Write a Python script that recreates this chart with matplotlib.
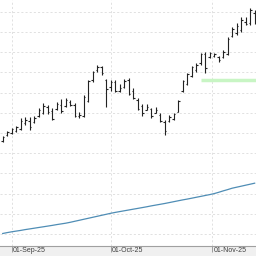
import matplotlib
matplotlib.use("Agg")
import matplotlib.pyplot as plt
import matplotlib.transforms as mtransforms

# daily bars, 28-Aug-25 .. 17-Nov-25 (trading days)
opens = [146, 149, 150, 151, 152, 155, 156, 155.5, 158.5, 160,
         163, 161, 162, 164, 163.5, 165.5, 164, 158.5, 158.5, 166,
         176, 181, 182.5, 176, 173, 175, 171, 173, 176, 171,
         166.5, 163.5, 161.5, 162, 160, 159, 155.5, 156, 157, 160.5,
         171, 174.5, 178, 181, 184.5, 189, 187.5, 188, 187.5, 187.5,
         189, 198, 199.5, 201, 205, 204.5, 209.5]
highs = [148.5, 151.0, 152.5, 153.5, 157.4, 157.9, 157.9, 158.4, 162.4, 164.9,
         163.9, 162.4, 165.3, 166.8, 167.3, 166.3, 164.9, 160.4, 168.8, 176.2,
         180.7, 183.7, 183.2, 176.7, 176.2, 176.2, 174.3, 176.7, 177.2, 172.3,
         167.3, 164.4, 164.4, 162.4, 162.9, 159.9, 156.4, 158.9, 159.9, 166.3,
         176.2, 179.7, 183.2, 184.7, 189.6, 190.1, 190.1, 189.6, 188.1, 191.1,
         197.5, 202.5, 204.5, 207.4, 207.4, 211.9, 210.9]
lows = [145.5, 148.5, 149.5, 150.5, 151.5, 154.0, 151.5, 154.9, 157.9, 159.4,
        159.4, 156.4, 161.4, 159.9, 162.9, 163.4, 157.9, 157.4, 157.9, 165.3,
        175.2, 180.2, 178.7, 162.9, 170.8, 170.3, 170.3, 172.3, 168.8, 166.8,
        161.4, 158.4, 161.4, 157.4, 159.9, 155.4, 149.0, 155.4, 156.4, 160.4,
        170.3, 173.8, 177.7, 180.2, 183.7, 179.7, 187.1, 187.6, 185.1, 187.1,
        188.6, 197.5, 198.5, 200.0, 203.5, 203.5, 204.0]
closes = [148, 150.5, 152, 153, 156, 156.5, 153, 157.5, 161.5, 163.5,
          160.5, 157, 164.5, 161, 166.5, 164, 158.5, 159, 168, 175.5,
          180, 182.5, 179.5, 172, 175, 171, 172.5, 175.5, 169.5, 167.5,
          162, 160, 163, 158.5, 161.5, 156, 151, 158, 159.5, 166,
          175.5, 179, 182.5, 183.5, 189, 182, 189.5, 189, 186, 190,
          196.5, 201.5, 203, 206, 204, 211, 205]

# slow moving average (blue)
ma = [100.25, 100.69, 101.09, 101.44, 101.78, 102.18, 102.52, 102.87, 103.22, 103.56,
      103.91, 104.26, 104.65, 105.00, 105.35, 105.79, 106.29, 106.78, 107.28, 107.77,
      108.27, 108.76, 109.26, 109.75, 110.25, 110.69, 111.09, 111.49, 111.88, 112.28,
      112.67, 113.07, 113.47, 113.91, 114.31, 114.70, 115.10, 115.54, 115.99, 116.44,
      116.88, 117.28, 117.72, 118.17, 118.61, 119.06, 119.50, 120.00, 120.64, 121.34,
      121.98, 122.67, 123.17, 123.66, 124.16, 124.65, 125.15]

# support level (green)
level_price = 176.2
level_start = 44.1

month_pos = [2, 24, 46.6]
month_labels = ["01-Sep-25", "01-Oct-25", "01-Nov-25"]

fig = plt.figure(figsize=(2.56, 2.56), dpi=100)
fig.patch.set_facecolor('#f0f0f0')
ax = fig.add_axes([0, 10 / 256, 1, 246 / 256])
ax.set_facecolor('white')

idx = list(range(len(opens)))
tw = 0.35

ax.plot(idx, ma, color='#4f8db5', lw=0.9, zorder=3)
ax.hlines(level_price, level_start, 57, color='#c8f5c4', lw=2.5, zorder=2)

ax.vlines(idx, lows, highs, color='#222222', lw=0.8, zorder=4)
ax.hlines(opens, [i - tw for i in idx], idx, color='#222222', lw=0.8, zorder=4)
ax.hlines(closes, idx, [i + tw for i in idx], color='#222222', lw=0.8, zorder=4)

ax.set_xlim(-0.6, 56.3)
ax.set_ylim(94.06, 215.84)
ax.set_yticks(range(100, 220, 10))
ax.set_xticks(month_pos)
ax.set_xticklabels([])
ax.tick_params(axis='y', left=False, labelleft=False)
ax.tick_params(axis='x', length=4, width=0.6, color='#909090', direction='out')
ax.grid(True, color='#dcdcdc', lw=0.6, ls=(0, (2.5, 2.5)))
ax.set_axisbelow(True)

for s in ['left', 'right', 'top']:
    ax.spines[s].set_visible(False)
ax.spines['bottom'].set_color('#a0a0a0')
ax.spines['bottom'].set_linewidth(0.8)

trans = mtransforms.blended_transform_factory(ax.transData, ax.transAxes)
for p, lab in zip(month_pos, month_labels):
    ax.text(p + 0.2, -0.006, lab, transform=trans, ha='left', va='top',
            fontsize=5, color='#404040',
            family=['Liberation Sans Narrow', 'Liberation Sans', 'DejaVu Sans'])

plt.savefig('out.png', dpi=100, facecolor=fig.get_facecolor())
